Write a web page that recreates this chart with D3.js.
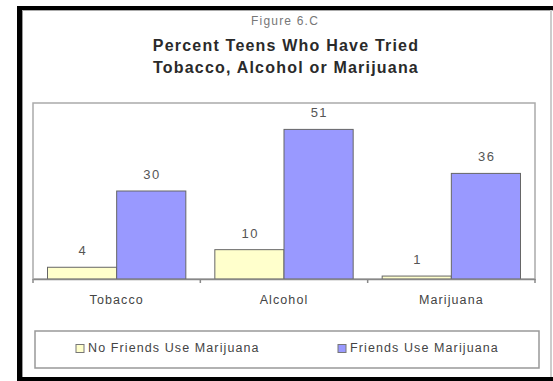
<!DOCTYPE html>
<html><head><meta charset="utf-8">
<script src="https://cdn.jsdelivr.net/npm/d3@7"></script>
<style>body{margin:0;background:#fff}svg{display:block}text{font-family:"Liberation Sans",Arial,sans-serif}</style>
</head><body>
<script>
const categories = ["Tobacco", "Alcohol", "Marijuana"];
const series = ["No Friends Use Marijuana", "Friends Use Marijuana"];
const noFriends = [4, 10, 1];
const friends = [30, 51, 36];
const colors = ["#FFFFCC", "#9999FF"];
const figLabel = "Figure 6.C";
const titleLines = ["Percent Teens Who Have Tried", "Tobacco, Alcohol or Marijuana"];

(function(){
const W = 553, H = 381;
const svg = d3.select("body").append("svg").attr("width", W).attr("height", H);
svg.append("rect").attr("width", W).attr("height", H).attr("fill", "#fff");

// outer frame
svg.append("line").attr("x1",19.5).attr("x2",19.5).attr("y1",6).attr("y2",381).attr("stroke","#000").attr("stroke-width",5);
svg.append("line").attr("x1",17).attr("x2",553).attr("y1",8).attr("y2",8).attr("stroke","#000").attr("stroke-width",4);
svg.append("line").attr("x1",17).attr("x2",553).attr("y1",379).attr("y2",379).attr("stroke","#000").attr("stroke-width",4);
svg.append("line").attr("x1",22.5).attr("x2",22.5).attr("y1",10).attr("y2",377).attr("stroke","#999").attr("stroke-width",1);
svg.append("line").attr("x1",22).attr("x2",553).attr("y1",10.5).attr("y2",10.5).attr("stroke","#aaa").attr("stroke-width",1);
svg.append("line").attr("x1",551).attr("x2",551).attr("y1",10).attr("y2",377).attr("stroke","#ccc").attr("stroke-width",2);

// titles
svg.append("text").attr("x",285).attr("y",25).attr("text-anchor","middle").attr("font-size",12)
  .attr("letter-spacing",1.2).attr("fill","#777").text(figLabel);
titleLines.forEach((t,i)=>svg.append("text").attr("x",286).attr("y",51+i*21.5).attr("text-anchor","middle")
  .attr("font-size",16).attr("font-weight","bold").attr("letter-spacing",1.2).attr("fill","#2a2a2a").text(t));

// plot
const pL=33, pR=535, pT=103, pB=279;
const x0 = d3.scaleBand().domain(categories).range([pL,pR]).padding(0);
const pad = 14.5;
const x1 = d3.scaleBand().domain(series).range([pad, x0.bandwidth()-pad]).padding(0);
const y = d3.scaleLinear().domain([0,60]).range([pB, pT]);

svg.append("rect").attr("x",pL).attr("y",pT).attr("width",pR-pL).attr("height",pB-pT)
  .attr("fill","none").attr("stroke","#aaa").attr("stroke-width",1.5);

const data = categories.map((c,i)=>({c, vals:[noFriends[i], friends[i]]}));
const g = svg.append("g");
data.forEach(d=>{
  d.vals.forEach((v,j)=>{
    const bx = x0(d.c)+x1(series[j]);
    g.append("rect").attr("x",bx).attr("y",y(v)).attr("width",x1.bandwidth()).attr("height",pB-y(v))
      .attr("fill",colors[j]).attr("stroke","#666").attr("stroke-width",1);
    g.append("text").attr("x",bx+x1.bandwidth()/2+0.8).attr("y",y(v)-12).attr("text-anchor","middle")
      .attr("font-size",13).attr("letter-spacing",1.5).attr("fill","#555").text(v);
  });
});

// axis
const ax = svg.append("g").attr("transform",`translate(0,${pB})`)
  .call(d3.axisBottom(x0).tickSize(0).tickPadding(16));
ax.select(".domain").attr("stroke","#888").attr("stroke-width",1.5);
ax.selectAll("text").attr("font-size",12.5).attr("letter-spacing",1.1).attr("fill","#444")
  .attr("font-family","Liberation Sans, Arial, sans-serif");
const edges = categories.map(c=>x0(c)).concat([pR]);
svg.selectAll(".tk").data(edges).enter().append("line").attr("x1",d=>d).attr("x2",d=>d)
  .attr("y1",pB).attr("y2",pB+4).attr("stroke","#888").attr("stroke-width",1.5);

// legend
svg.append("rect").attr("x",35).attr("y",331).attr("width",504).attr("height",37)
  .attr("fill","none").attr("stroke","#999").attr("stroke-width",1.5);
const legX = [76, 338];
series.forEach((s,j)=>{
  svg.append("rect").attr("x",legX[j]).attr("y",344.5).attr("width",8).attr("height",8)
    .attr("fill",colors[j]).attr("stroke","#777").attr("stroke-width",1);
  svg.append("text").attr("x",legX[j]+12).attr("y",352).attr("font-size",12.5).attr("letter-spacing",1.1)
    .attr("fill","#444").text(s);
});
})();
</script>
</body></html>
